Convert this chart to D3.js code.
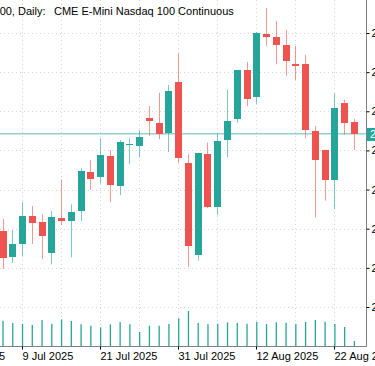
<!DOCTYPE html>
<html>
<head>
<meta charset="utf-8">
<script src="https://d3js.org/d3.v7.min.js"></script>
<style>
body { margin: 0; background: #fff; }
svg { display: block; font-family: "Liberation Sans", Arial, sans-serif; }
</style>
</head>
<body>
<script>
// daily bars
var dates = ["7 Jul", "8 Jul", "9 Jul", "10 Jul", "11 Jul", "14 Jul", "15 Jul", "16 Jul", "17 Jul", "18 Jul",
    "21 Jul", "22 Jul", "23 Jul", "24 Jul", "25 Jul", "28 Jul", "29 Jul", "30 Jul", "31 Jul", "1 Aug",
    "4 Aug", "5 Aug", "6 Aug", "7 Aug", "8 Aug", "11 Aug", "12 Aug", "13 Aug", "14 Aug", "15 Aug",
    "18 Aug", "19 Aug", "20 Aug", "21 Aug", "22 Aug", "25 Aug", "26 Aug"];
var opens = [22788, 22654, 22723, 22865, 22833, 22677, 22853, 22839, 22892, 23088,
    23063, 23173, 23017, 23226, 23226, 23366, 23342, 23288, 23551, 23134,
    22666, 23182, 22912, 23253, 23359, 23612, 23475, 23793, 23780, 23739,
    23642, 23642, 23298, 23202, 23050, 23444, 23344];
var highs = [22850, 22793, 22937, 22916, 22874, 22890, 23052, 22925, 23110, 23151,
    23262, 23202, 23253, 23262, 23304, 23427, 23495, 23534, 23696, 23182,
    23187, 23240, 23288, 23512, 23612, 23652, 23805, 23928, 23861, 23815,
    23734, 23688, 23325, 23204, 23492, 23459, 23361];
var lows = [22594, 22625, 22661, 22722, 22645, 22618, 22819, 22654, 22839, 22999,
    23030, 22935, 22972, 23129, 23165, 23274, 23257, 23192, 23137, 22606,
    22637, 22905, 22869, 23165, 23342, 23427, 23437, 23735, 23640, 23580,
    23560, 23264, 22858, 22943, 22901, 23279, 23202];
var closes = [22652, 22722, 22865, 22829, 22761, 22861, 22839, 22885, 23095, 23052,
    23177, 23023, 23243, 23233, 23270, 23349, 23288, 23502, 23161, 22712,
    23185, 22909, 23247, 23352, 23609, 23466, 23802, 23778, 23737, 23655,
    23633, 23306, 23150, 23050, 23417, 23340, 23285];
var volumes = [481, 437, 418, 399, 494, 424, 507, 475, 412, 386,
    355, 412, 456, 412, 266, 386, 386, 418, 526, 665,
    437, 412, 424, 450, 437, 424, 462, 418, 450, 443,
    418, 456, 494, 462, 418, 361, 95];

var tickIndex = [-6, 2, 10, 18, 26, 34];
var tickLabels = ["26 Jun 2025", "9 Jul 2025", "21 Jul 2025", "31 Jul 2025", "12 Aug 2025", "22 Aug 2025"];
var priceTicks = [22400, 22600, 22800, 23000, 23200, 23400, 23600, 23800];
var symbolName = "NQ100, Daily:";
var title = "CME E-Mini Nasdaq 100 Continuous";

var up = "#26a69a", down = "#ef5350";

var width = 375, height = 366;
var plotRight = 366, plotBottom = 346;

var svg = d3.select("body").append("svg")
    .attr("width", width)
    .attr("height", height);

// x = bar index, y = price
var x = d3.scaleLinear().domain([0, 36]).range([3, 354.4]);
var y = d3.scaleLinear().domain([22400, 23800]).range([307, 33]);
var v = d3.scaleLinear().domain([0, 700]).range([plotBottom, plotBottom - 36.8]);

function px(i) { return Math.floor(x(i)) + 0.5; }

// grid
var grid = svg.append("g").attr("stroke", "#d6d6d6").attr("stroke-dasharray", "1,3");
grid.selectAll(".h").data(priceTicks).enter().append("line")
    .attr("x1", 0).attr("x2", plotRight)
    .attr("y1", d => Math.round(y(d)) + 0.5).attr("y2", d => Math.round(y(d)) + 0.5);
grid.selectAll(".v").data(d3.range(-6, 36, 4)).enter().append("line")
    .attr("x1", px).attr("x2", px)
    .attr("y1", 0).attr("y2", plotBottom);

var bars = dates.map((d, i) => ({
    i: i, date: d, o: opens[i], h: highs[i], l: lows[i], c: closes[i], vol: volumes[i]
}));

// volumes
svg.append("g").selectAll("line").data(bars).enter().append("line")
    .attr("x1", d => x(d.i)).attr("x2", d => x(d.i))
    .attr("y1", plotBottom).attr("y2", d => v(d.vol))
    .attr("stroke", up).attr("stroke-width", 1.3);

// last price line
var last = closes[closes.length - 1];
svg.append("line")
    .attr("x1", 0).attr("x2", plotRight)
    .attr("y1", y(last)).attr("y2", y(last))
    .attr("stroke", up).attr("stroke-opacity", 0.5).attr("stroke-width", 1.6);

// candles
var candle = svg.append("g").selectAll("g").data(bars).enter().append("g");
candle.append("line")
    .attr("x1", d => px(d.i)).attr("x2", d => px(d.i))
    .attr("y1", d => y(d.h)).attr("y2", d => y(d.l))
    .attr("stroke", d => d.c >= d.o ? up : down)
    .attr("stroke-opacity", 0.6);
candle.append("rect")
    .attr("x", d => Math.floor(x(d.i)) - 3)
    .attr("width", 7)
    .attr("y", d => Math.round(y(Math.max(d.o, d.c))))
    .attr("height", d => Math.max(1, Math.round(Math.abs(y(d.o) - y(d.c)))))
    .attr("fill", d => d.c >= d.o ? up : down);

// frame
svg.append("path")
    .attr("d", "M" + (plotRight + 0.5) + ",0V" + (plotBottom + 0.5) + "H0")
    .attr("fill", "none").attr("stroke", "#808080");

// price axis (mostly cut off on the right)
var yAxis = svg.append("g")
    .attr("transform", "translate(" + (plotRight + 0.5) + ",0)")
    .call(d3.axisRight(y).tickValues(priceTicks).tickFormat(d3.format(".2f")).tickSize(3).tickPadding(2));
yAxis.select(".domain").remove();
yAxis.selectAll("text").attr("font-size", 11).attr("font-family", null).attr("fill", "#000");
yAxis.selectAll("line").attr("stroke", "#000");

// last price tag
svg.append("rect")
    .attr("x", plotRight + 1).attr("y", Math.round(y(last)) - 6)
    .attr("width", 60).attr("height", 13).attr("fill", up);
svg.append("text")
    .attr("x", plotRight + 4).attr("y", y(last)).attr("dy", "0.35em")
    .attr("font-size", 11).attr("fill", "#fff")
    .text(d3.format(".2f")(last));

// date axis
var xAxis = svg.append("g")
    .attr("transform", "translate(0," + (plotBottom + 0.5) + ")")
    .call(d3.axisBottom(x).tickValues(tickIndex).tickFormat((d, i) => tickLabels[i]).tickSize(3).tickPadding(2));
xAxis.select(".domain").remove();
xAxis.selectAll(".tick").attr("transform", d => "translate(" + px(d) + ",0)");
xAxis.selectAll("text").attr("font-size", 11).attr("font-family", null).attr("fill", "#000")
    .attr("text-anchor", "start").attr("x", 0).attr("y", 13.5).attr("dy", 0);
xAxis.selectAll("line").attr("stroke", "#000");

// title: symbol part runs off the left edge
svg.append("text")
    .attr("x", 45.5).attr("y", 15)
    .attr("text-anchor", "end")
    .attr("font-size", 11)
    .attr("fill", "#000")
    .text(symbolName);
svg.append("text")
    .attr("x", 54).attr("y", 15)
    .attr("font-size", 11)
    .attr("fill", "#000")
    .text(title);
</script>
</body>
</html>
